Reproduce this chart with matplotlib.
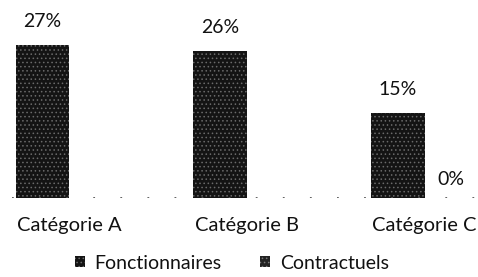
import matplotlib
matplotlib.use('Agg')
import matplotlib.pyplot as plt
import numpy as np

# data
categories = ['Catégorie A', 'Catégorie B', 'Catégorie C']
series_names = ['Fonctionnaires', 'Contractuels']
fonctionnaires = [27, 26, 15]
contractuels = [0, 0, 0]
labels_fonct = ['27%', '26%', '15%']
labels_contr = ['', '', '0%']

plt.rcParams['font.family'] = ['Lato', 'DejaVu Sans']
plt.rcParams['hatch.linewidth'] = 0.6

fig = plt.figure(figsize=(4.78, 2.77), dpi=100)
ax = fig.add_axes([0.025, 0.285, 0.975, 0.695])

x = np.arange(len(categories))
w = 0.3

bars1 = ax.bar(x - w / 2, fonctionnaires, w, facecolor='#141414',
               edgecolor='#6a6a6a', hatch='....', linewidth=0,
               label=series_names[0])
bars2 = ax.bar(x + w / 2, contractuels, w, facecolor='#222222',
               edgecolor='#7a7a7a', hatch='....', linewidth=0,
               label=series_names[1])

# value labels
for b, lbl in zip(bars1, labels_fonct):
    ax.annotate(lbl, (b.get_x() + b.get_width() / 2, b.get_height()),
                xytext=(0, 11), textcoords='offset points',
                ha='center', va='bottom', fontsize=14, color='#111111')
for b, lbl in zip(bars2, labels_contr):
    ax.annotate(lbl, (b.get_x() + b.get_width() / 2, b.get_height()),
                xytext=(0, 7), textcoords='offset points',
                ha='center', va='bottom', fontsize=14, color='#111111')

# sparse dotted baseline like the scan
ax.axhline(0, color='#555555', linestyle=(0, (1, 14)), linewidth=1.3)

ax.set_xlim(-0.32, 2.30)
ax.set_ylim(0, 34)
ax.set_xticks(x)
ax.set_xticklabels(categories, fontsize=14.5, color='#111111')
ax.tick_params(axis='x', length=0, pad=14)
ax.set_yticks([])
for s in ax.spines.values():
    s.set_visible(False)

fig.legend(loc='center', bbox_to_anchor=(0.485, 0.05), ncol=2,
           frameon=False, fontsize=14, handlelength=0.5, handleheight=0.5,
           handletextpad=0.5, columnspacing=2.0, labelcolor='#111111')

fig.savefig('out.png', dpi=100, facecolor='white')
